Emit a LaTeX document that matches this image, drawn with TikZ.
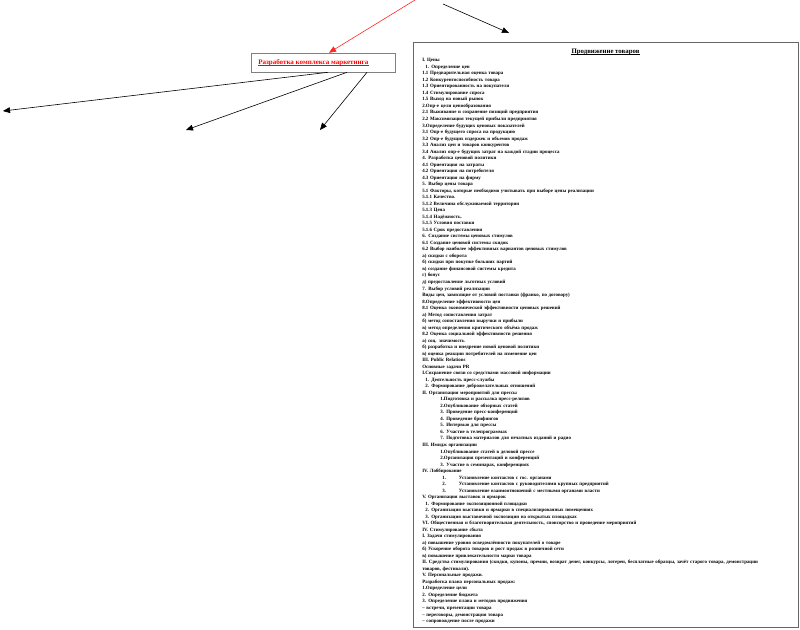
\documentclass[tikz,border=0pt]{standalone}
\usepackage{fontspec}
\setmainfont{Liberation Serif}
\usetikzlibrary{arrows, positioning}
\tikzset{>=triangle 45, every node/.style={inner sep=0pt}}

\begin{document}
\begin{tikzpicture}[x=1pt, y=-1pt, line width=0.6pt]
            \useasboundingbox (0,0) rectangle (800,629);
            \node[draw=gray, rectangle, minimum width=144pt, minimum height=19pt] (kompleks) at (323,62.5) {};
            \node[anchor=west, text=red, font=\fontsize{7}{7}\selectfont\bfseries] (kompleks-tekst) at (258,62.5) {Разработка комплекса маркетинга};
            \draw[red, line width=0.5pt] ([yshift=1pt]kompleks-tekst.south west) -- ([yshift=1pt]kompleks-tekst.south east);
            \node[draw=gray!80!black, rectangle, minimum width=385pt, minimum height=585pt] (prodvizhenie) at (605.5,334.5) {};
            \node[below=7pt of prodvizhenie.north, font=\fontsize{6.8}{7}\selectfont\bfseries] (zagolovok) {Продвижение товаров};
            \draw[line width=0.5pt] ([yshift=1pt]zagolovok.south west) -- ([yshift=1pt]zagolovok.south east);
            \node[anchor=north west, text width=370pt, align=left, font=\fontsize{4.9}{6.52}\selectfont\bfseries] (plan) at (422,58.3) {\parindent=0pt
I. Цены\par
\hspace*{3pt}1. Определение цен\par
1.1 Предварительная оценка товара\par
1.2 Конкурентоспособность товара\par
1.3 Ориентированность на покупателя\par
1.4 Стимулирование спроса\par
1.5 Выход на новый рынок\par
2.Опр-е цели ценообразования\par
2.1 Выживание и сохранение позиций предприятия\par
2.2 Максимизация текущей прибыли предприятия\par
3.Определение будущих ценовых показателей\par
3.1 Опр-е будущего спроса на продукцию\par
3.2 Опр-е будущих издержек и объемов продаж\par
3.3 Анализ цен и товаров конкурентов\par
3.4 Анализ опр-е будущих затрат на каждой стадии процесса\par
4. Разработка ценовой политики\par
4.1 Ориентация на затраты\par
4.2 Ориентация на потребителя\par
4.3 Ориентация на фирму\par
5. Выбор цены товара\par
5.1 Факторы, которые необходимо учитывать при выборе цены реализации\par
5.1.1 Качество.\par
5.1.2 Величина обслуживаемой территории\par
5.1.3 Цена\par
5.1.4 Надёжность.\par
5.1.5 Условия поставки\par
5.1.6 Срок предоставления\par
6. Создание системы ценовых стимулов\par
6.1 Создание ценовой системы скидок\par
6.2 Выбор наиболее эффективных вариантов ценовых стимулов\par
а) скидки с оборота\par
б) скидки при покупке больших партий\par
в) создание финансовой системы кредита\par
г) бонус\par
д) предоставление льготных условий\par
7. Выбор условий реализации\par
Виды цен, зависящие от условий поставки (франко, по договору)\par
8.Определение эффективности цен\par
8.1 Оценка экономической эффективности ценовых решений\par
а) Метод сопоставления затрат\par
б) метод сопоставления выручки и прибыли\par
в) метод определения критического объёма продаж\par
8.2 Оценка социальной эффективности решения\par
а) соц. значимость\par
б) разработка и внедрение новой ценовой политики\par
в) оценка реакции потребителей на изменение цен\par
III. Public Relations\par
Основные задачи PR\par
I.Сохранение связи со средствами массовой информации\par
\hspace*{3pt}1. Деятельность пресс-службы\par
\hspace*{3pt}2. Формирование доброжелательных отношений\par
II. Организация мероприятий для прессы\par
\hspace*{18pt}1.Подготовка и рассылка пресс-релизов\par
\hspace*{18pt}2.Опубликование обзорных статей\par
\hspace*{18pt}3. Проведение пресс-конференций\par
\hspace*{18pt}4. Проведение брифингов\par
\hspace*{18pt}5. Интервью для прессы\par
\hspace*{18pt}6. Участие в телепрограммах\par
\hspace*{18pt}7. Подготовка материалов для печатных изданий и радио\par
III. Имидж организации\par
\hspace*{18pt}1.Опубликование статей в деловой прессе\par
\hspace*{18pt}2.Организация презентаций и конференций\par
\hspace*{18pt}3. Участие в семинарах, конференциях\par
IV. Лоббирование\par
\hspace*{20pt}1.\hspace*{13pt}Установление контактов с гос. органами\par
\hspace*{20pt}2.\hspace*{13pt}Установление контактов с руководителями крупных предприятий\par
\hspace*{20pt}3.\hspace*{13pt}Установление взаимоотношений с местными органами власти\par
V. Организация выставок и ярмарок\par
\hspace*{3pt}1. Формирование экспозиционной площадки\par
\hspace*{3pt}2. Организация выставки и ярмарки в специализированных помещениях\par
\hspace*{3pt}3. Организация выставочной экспозиции на открытых площадках\par
VI. Общественная и благотворительная деятельность, спонсорство и проведение мероприятий\par
IV. Стимулирование сбыта\par
I. Задачи стимулирования\par
а) повышение уровня осведомлённости покупателей о товаре\par
б) Ускорение оборота товаров и рост продаж в розничной сети\par
в) повышение привлекательности марки товара\par
II. Средства стимулирования (скидки, купоны, премии, возврат денег, конкурсы, лотереи, бесплатные образцы, зачёт старого товара, демонстрации\par
товаров, фестивали).\par
V. Персональные продажи.\par
Разработка плана персональных продаж:\par
1.Определение цели\par
2. Определение бюджета\par
3. Определение плана и методов продвижения\par
– встречи, презентации товара\par
– переговоры, демонстрация товара\par
– сопровождение после продажи\par};

            \coordinate (istok-krasnyj) at (415,0);
            \coordinate (istok-chernyj) at (443,4);
            \coordinate (konec-chernyj) at (509,33);
            \draw[->, red!85] (istok-krasnyj) -- ([xshift=6pt]kompleks.north);
            \draw[->] (istok-chernyj) -- (konec-chernyj);

            \coordinate (vetv-1) at (3,111);
            \coordinate (vetv-2) at (186,130);
            \coordinate (vetv-3) at (320,130);
            \draw[->] ([xshift=5pt]kompleks.south) -- (vetv-1);
            \draw[->] ([xshift=24pt]kompleks.south) -- (vetv-2);
            \draw[->] ([xshift=44pt]kompleks.south) -- (vetv-3);
      \end{tikzpicture}
\end{document}
